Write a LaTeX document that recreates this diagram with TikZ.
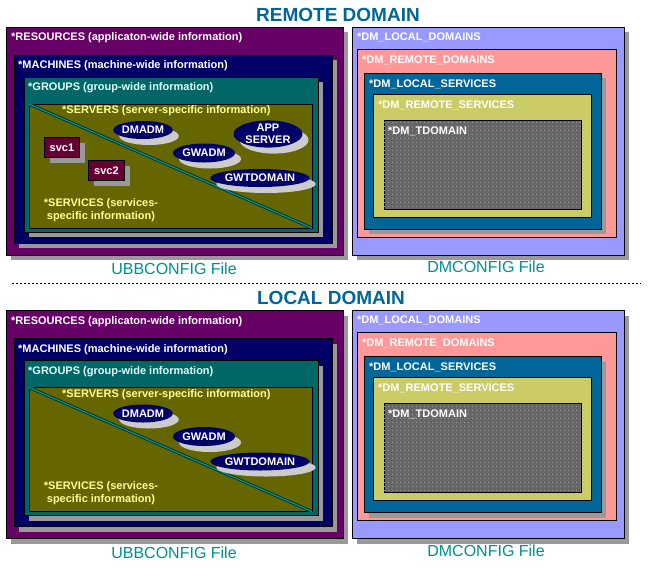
\documentclass[tikz,border=0pt]{standalone}
\usepackage{fontspec}
\setmainfont{Liberation Sans}
\usetikzlibrary{shadows,patterns,shapes.geometric}
\definecolor{cres}{HTML}{660066}
\definecolor{cmach}{HTML}{000066}
\definecolor{cgrp}{HTML}{006666}
\definecolor{csrv}{HTML}{666600}
\definecolor{cell}{HTML}{000066}
\definecolor{cellsh}{HTML}{CCCCCC}
\definecolor{csvc}{HTML}{660033}
\definecolor{cshadow}{HTML}{999999}
\definecolor{cld}{HTML}{9999FF}
\definecolor{crd}{HTML}{FF9999}
\definecolor{cls}{HTML}{006699}
\definecolor{crs}{HTML}{CCCC66}
\definecolor{ctd}{HTML}{666666}
\definecolor{cdot}{HTML}{9A9A9A}
\definecolor{ctitle}{HTML}{006699}
\definecolor{cfile}{HTML}{008F8F}
\definecolor{cyel}{HTML}{FFFF99}
\definecolor{ccyan}{HTML}{E0FFFF}
\definecolor{cdiagout}{HTML}{003333}
\definecolor{cdiagin}{HTML}{009999}
\pgfdeclarepatternformonly{tddots}{\pgfpoint{-0.1pt}{-0.1pt}}{\pgfpoint{4.1pt}{4.1pt}}{\pgfpoint{4pt}{4pt}}{\pgfpathrectangle{\pgfpointorigin}{\pgfpoint{0.6pt}{0.6pt}}\pgfusepath{fill}}
\newcommand{\lblsize}{\bfseries\fontsize{11}{13}\selectfont}
\tikzset{
  box/.style={draw=black, line width=0.8pt, anchor=north west, inner sep=0pt, outer sep=0pt},
  shad/.style={drop shadow={shadow xshift=5pt, shadow yshift=-5pt, fill=cshadow, opacity=1}},
  lbl/.style={font=\lblsize, text=white, inner sep=0pt, anchor=west},
  ell/.style={ellipse, fill=cell, text=white, font=\lblsize, inner sep=0pt, align=center,
    drop shadow={shadow xshift=6pt, shadow yshift=-6pt, fill=cellsh, opacity=1}},
  svcbox/.style={draw=black, line width=0.8pt, fill=csvc, text=white, font=\lblsize, inner sep=0pt,
    drop shadow={shadow xshift=6pt, shadow yshift=-6pt, fill=cshadow, opacity=1}},
  titletext/.style={font=\bfseries\fontsize{19}{22}\selectfont, text=ctitle, inner sep=0pt},
  filetext/.style={font=\fontsize{16}{19}\selectfont, text=cfile, inner sep=0pt},
  diagout/.style={line width=3pt, draw=cdiagout},
  diagin/.style={line width=1.1pt, draw=cdiagin},
  sepline/.style={line width=0.8pt, dash pattern=on 2pt off 2pt, draw=black}
}
\newcommand{\ubbblock}[2]{%
\begin{scope}[shift={(0,#2)}]
  \node[box, shad, fill=cres, minimum width=337pt, minimum height=228pt] (#1res) at (6,27) {};
  \node[lbl] (#1resl) at (11,38) {*RESOURCES (applicaton-wide information)};
  \node[box, shad, fill=cmach, minimum width=318pt, minimum height=188pt] (#1mach) at (14,55) {};
  \node[lbl] (#1machl) at (18,66) {*MACHINES (machine-wide information)};
  \node[box, shad, fill=cgrp, minimum width=294pt, minimum height=155pt] (#1grp) at (24,77) {};
  \node[lbl, text=ccyan] (#1grpl) at (28,88) {*GROUPS (group-wide information)};
  \node[box, fill=csrv, minimum width=283pt, minimum height=124pt] (#1srv) at (29,104) {};
  \begin{scope}
    \clip (#1srv.north west) rectangle (#1srv.south east);
    \draw[diagout] (#1srv.north west) -- (#1srv.south east);
    \draw[diagin] (#1srv.north west) -- (#1srv.south east);
  \end{scope}
  \node[lbl, text=cyel] (#1srvl) at (62,111) {*SERVERS (server-specific information)};
  \node[lbl, text=cyel, anchor=center, align=center, font=\bfseries\fontsize{11}{13}\selectfont] (#1svcl) at (101,210) {*SERVICES (services-\\specific information)};
  \node[ell, minimum width=59pt, minimum height=18pt] (#1dmadm) at (143,130) {DMADM};
  \node[ell, minimum width=62pt, minimum height=19pt] (#1gwadm) at (204,153) {GWADM};
  \node[ell, minimum width=93pt, minimum height=18pt] (#1gwt) at (260,178) {GWTDOMAIN};
  \node[filetext] (#1ubbf) at (174,269) {UBBCONFIG File};
\end{scope}}
\newcommand{\dmblock}[2]{%
\begin{scope}[shift={(0,#2)}]
  \node[box, shad, fill=cld, minimum width=272pt, minimum height=228pt] (#1ld) at (352,27) {};
  \node[lbl] (#1ldl) at (357,37) {*DM\_LOCAL\_DOMAINS};
  \node[box, fill=crd, minimum width=259pt, minimum height=188pt] (#1rd) at (357,49) {};
  \node[lbl] (#1rdl) at (362,60) {*DM\_REMOTE\_DOMAINS};
  \node[box, shad, fill=cls, minimum width=237pt, minimum height=156pt] (#1ls) at (364,73) {};
  \node[lbl] (#1lsl) at (369,84) {*DM\_LOCAL\_SERVICES};
  \node[box, fill=crs, minimum width=218pt, minimum height=123pt] (#1rs) at (373,94) {};
  \node[lbl] (#1rsl) at (378,105) {*DM\_REMOTE\_SERVICES};
  \node[box, fill=ctd, postaction={pattern=tddots, pattern color=cdot}, minimum width=197pt, minimum height=89pt] (#1td) at (384,120) {};
  \node[lbl] (#1tdl) at (388,131) {*DM\_TDOMAIN};
  \node[filetext] (#1dmf) at (486,267) {DMCONFIG File};
\end{scope}}
\begin{document}
\begin{tikzpicture}[x=1pt,y=-1pt]
  \useasboundingbox (0,0) rectangle (652,571);
  \node[titletext] (rtitle) at (338,15) {REMOTE DOMAIN};
  \ubbblock{t}{0}
  \dmblock{t}{0}
  % extras in the remote domain
  \node[ell, minimum width=69pt, minimum height=25pt, font=\bfseries\fontsize{11}{11.5}\selectfont] (tapp) at (268,134) {APP\\SERVER};
  \node[svcbox, minimum width=35pt, minimum height=20pt, anchor=north west] (tsvc1) at (44,137) {svc1};
  \node[svcbox, minimum width=36pt, minimum height=20pt, anchor=north west] (tsvc2) at (88,160) {svc2};
  \coordinate (sepl) at (12,283);
  \coordinate (sepr) at (641,283);
  \draw[sepline] (sepl) -- (sepr);
  \node[titletext] (ltitle) at (331,298) {LOCAL DOMAIN};
  \ubbblock{b}{283.5}
  \dmblock{b}{283.5}
\end{tikzpicture}
\end{document}
